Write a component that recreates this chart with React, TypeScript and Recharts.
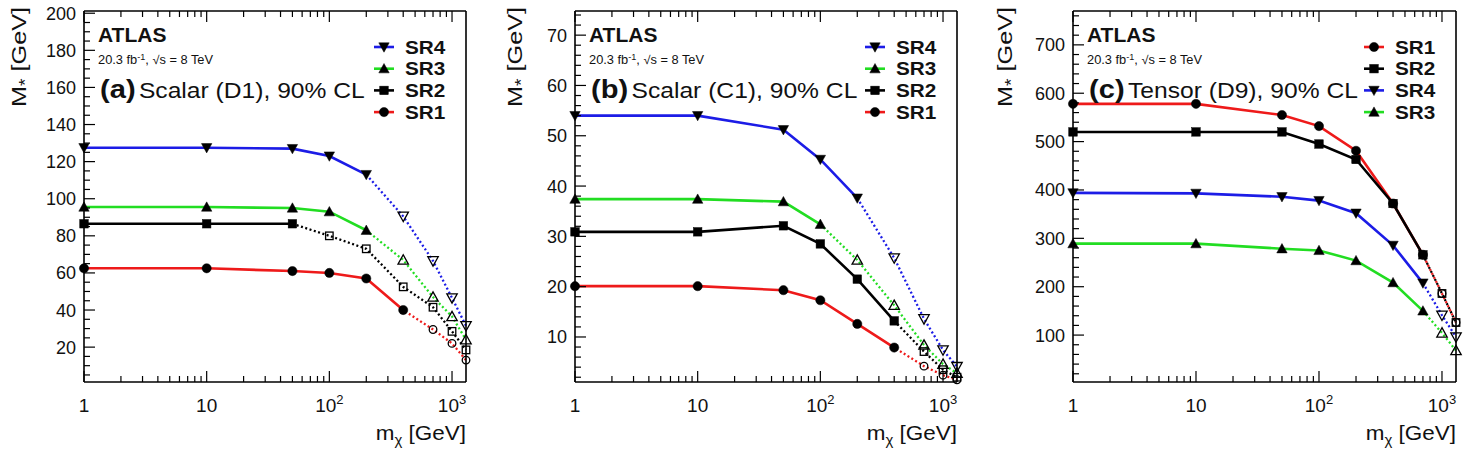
import React from 'react';
import { LineChart, Line, XAxis, YAxis } from 'recharts';

const FONT = '"Liberation Sans", Arial, Helvetica, sans-serif';
const INK = '#111';

// Dark-matter mass points (GeV)
const MASSES = [1, 10, 50, 100, 200, 400, 700, 1000, 1300];

// Log-axis tick positions and decade labels [mantissa, exponent]
const X_TICKS = [
  1, 2, 3, 4, 5, 6, 7, 8, 9,
  10, 20, 30, 40, 50, 60, 70, 80, 90,
  100, 200, 300, 400, 500, 600, 700, 800, 900,
  1000,
];
const X_LABELS: Record<number, [string, string]> = {
  1: ['1', ''],
  10: ['10', ''],
  100: ['10', '2'],
  1000: ['10', '3'],
};

// (a) Scalar (D1) limits on M* [GeV]
const D1_SR1 = [62.5, 62.5, 61, 60, 57, 40, 29.5, 22, 13];
const D1_SR2 = [86.5, 86.5, 86.5, 80, 73, 52.5, 41.5, 28.5, 18.5];
const D1_SR3 = [95.5, 95.5, 95, 93, 83, 67, 47, 36.5, 24];
const D1_SR4 = [127.5, 127.5, 127, 123, 113, 90.5, 66.5, 46.5, 31.5];
// index of the last mass point with a valid (filled) limit
const D1_LAST_VALID = { SR1: 5, SR2: 2, SR3: 4, SR4: 4 };
const D1_Y_LABELS = [20, 40, 60, 80, 100, 120, 140, 160, 180, 200];

// (b) Scalar (C1)
const C1_SR1 = [20.1, 20.1, 19.3, 17.3, 12.6, 7.9, 4.2, 2.4, 1.5];
const C1_SR2 = [30.9, 30.9, 32.1, 28.5, 21.5, 13.2, 7.1, 3.5, 2.0];
const C1_SR3 = [37.4, 37.4, 36.9, 32.4, 25.3, 16.3, 8.4, 4.6, 2.8];
const C1_SR4 = [54, 54, 51.2, 45.3, 37.6, 25.7, 13.6, 7.4, 4.1];
const C1_LAST_VALID = { SR1: 5, SR2: 5, SR3: 3, SR4: 4 };
const C1_Y_LABELS = [10, 20, 30, 40, 50, 60, 70];

// (c) Tensor (D9)
const D9_SR1 = [578, 578, 555, 532, 481, 372, 266, 186, 126];
const D9_SR2 = [520, 520, 520, 495, 463, 372, 266, 186, 126];
const D9_SR3 = [289, 289, 278.5, 275, 254, 208.5, 150, 104.5, 68];
const D9_SR4 = [394, 393, 386, 378, 352, 285.5, 207.5, 141, 96];
const D9_LAST_VALID = { SR1: 6, SR2: 6, SR3: 6, SR4: 6 };
const D9_Y_LABELS = [100, 200, 300, 400, 500, 600, 700];

type Key = 'SR1' | 'SR2' | 'SR3' | 'SR4';
type MarkerKind = 'circle' | 'square' | 'up' | 'down';

const STYLE: Record<Key, { color: string; marker: MarkerKind; dashOffset: number }> = {
  SR1: { color: '#ee1a1a', marker: 'circle', dashOffset: 2.25 },
  SR2: { color: '#000000', marker: 'square', dashOffset: 0 },
  SR3: { color: '#22dd22', marker: 'up', dashOffset: 0 },
  SR4: { color: '#1c1ce6', marker: 'down', dashOffset: 0 },
};

function Marker({ kind, cx, cy, open }: { kind: MarkerKind; cx: number; cy: number; open: boolean }) {
  const fill = open ? 'none' : '#000';
  const sw = open ? 1.3 : 0.5;
  if (kind === 'circle') {
    return <circle cx={cx} cy={cy} r={open ? 3.8 : 4.6} fill={fill} stroke="#000" strokeWidth={sw} />;
  }
  if (kind === 'square') {
    const s = open ? 7.5 : 8.5;
    return <rect x={cx - s / 2} y={cy - s / 2} width={s} height={s} fill={fill} stroke="#000" strokeWidth={sw} />;
  }
  const h = 5.2;
  const d = kind === 'up' ? 1 : -1;
  const pts = `${cx},${cy - d * h} ${cx - h},${cy + d * h * 0.8} ${cx + h},${cy + d * h * 0.8}`;
  return <polygon points={pts} fill={fill} stroke="#000" strokeWidth={sw} strokeLinejoin="miter" />;
}

interface PanelDef {
  tag: string;
  title: string;
  series: Record<Key, number[]>;
  lastValid: Record<Key, number>;
  legend: Key[];
  yDomain: [number, number];
  yLabels: number[];
  yMinorStep: number;
  originX: number;
  width: number;
  plotLeft: number;
  plotRight: number;
  yTitleX: number;
}

const PANELS: PanelDef[] = [
  {
    tag: '(a)',
    title: 'Scalar (D1), 90% CL',
    series: { SR1: D1_SR1, SR2: D1_SR2, SR3: D1_SR3, SR4: D1_SR4 },
    lastValid: D1_LAST_VALID,
    legend: ['SR4', 'SR3', 'SR2', 'SR1'],
    yDomain: [1.2, 201.2],
    yLabels: D1_Y_LABELS,
    yMinorStep: 5,
    originX: 0,
    width: 490,
    plotLeft: 84,
    plotRight: 466,
    yTitleX: 26,
  },
  {
    tag: '(b)',
    title: 'Scalar (C1), 90% CL',
    series: { SR1: C1_SR1, SR2: C1_SR2, SR3: C1_SR3, SR4: C1_SR4 },
    lastValid: C1_LAST_VALID,
    legend: ['SR4', 'SR3', 'SR2', 'SR1'],
    yDomain: [1.05, 74.8],
    yLabels: C1_Y_LABELS,
    yMinorStep: 2,
    originX: 490,
    width: 490,
    plotLeft: 575,
    plotRight: 957,
    yTitleX: 522,
  },
  {
    tag: '(c)',
    title: 'Tensor (D9), 90% CL',
    series: { SR1: D9_SR1, SR2: D9_SR2, SR3: D9_SR3, SR4: D9_SR4 },
    lastValid: D9_LAST_VALID,
    legend: ['SR1', 'SR2', 'SR4', 'SR3'],
    yDomain: [3, 770],
    yLabels: D9_Y_LABELS,
    yMinorStep: 20,
    originX: 980,
    width: 485,
    plotLeft: 1073,
    plotRight: 1456,
    yTitleX: 1012,
  },
];

const PLOT_TOP = 11;
const PLOT_BOTTOM = 382;
const Y_AXIS_W = 50;
const X_AXIS_H = 40;

function buildRows(p: PanelDef) {
  return MASSES.map((m, i) => {
    const row: Record<string, number | null> = { m };
    (Object.keys(p.series) as Key[]).forEach((k) => {
      const v = p.series[k][i];
      const last = p.lastValid[k];
      row[`${k}_valid`] = i <= last ? v : null;
      row[`${k}_ext`] = i >= last ? v : null;
    });
    return row;
  });
}

function buildYTicks(p: PanelDef) {
  const ticks: number[] = [];
  for (let v = p.yMinorStep; v <= p.yDomain[1]; v += p.yMinorStep) {
    if (v >= p.yDomain[0]) ticks.push(v);
  }
  return ticks;
}

const BottomTick = (props: any) => {
  const { x, y, payload } = props;
  const lab = X_LABELS[payload.value];
  const major = lab !== undefined;
  return (
    <g>
      <line x1={x} y1={y} x2={x} y2={y - (major ? 11 : 6)} stroke="#000" strokeWidth={1.2} />
      {lab && (
        <text x={x} y={y + 30} textAnchor="middle" fontSize={19} fontFamily={FONT} fill={INK}>
          {lab[0]}
          {lab[1] && (
            <tspan dy={-8} fontSize={13}>
              {lab[1]}
            </tspan>
          )}
        </text>
      )}
    </g>
  );
};

const TopTick = (props: any) => {
  const { x, y, payload } = props;
  const major = X_LABELS[payload.value] !== undefined;
  return <line x1={x} y1={y} x2={x} y2={y + (major ? 11 : 6)} stroke="#000" strokeWidth={1.2} />;
};

const makeLeftTick = (labels: number[]) => (props: any) => {
  const { x, y, payload } = props;
  const major = labels.includes(payload.value);
  return (
    <g>
      <line x1={x} y1={y} x2={x + (major ? 11 : 6)} y2={y} stroke="#000" strokeWidth={1.2} />
      {major && (
        <text x={x - 8} y={y} dy="0.36em" textAnchor="end" fontSize={18} fontFamily={FONT} fill={INK}>
          {payload.value}
        </text>
      )}
    </g>
  );
};

const makeRightTick = (labels: number[]) => (props: any) => {
  const { x, y, payload } = props;
  const major = labels.includes(payload.value);
  return <line x1={x} y1={y} x2={x - (major ? 11 : 6)} y2={y} stroke="#000" strokeWidth={1.2} />;
};

function Panel({ p }: { p: PanelDef }) {
  const rows = buildRows(p);
  const yTicks = buildYTicks(p);
  const margin = {
    top: PLOT_TOP - 1,
    bottom: 454 - PLOT_BOTTOM - X_AXIS_H,
    left: p.plotLeft - p.originX - Y_AXIS_W,
    right: p.originX + p.width - p.plotRight - 1,
  };
  const validOrder: Key[] = ['SR1', 'SR2', 'SR3', 'SR4'];
  const extOrder: Key[] = ['SR2', 'SR1', 'SR3', 'SR4'];
  const axisLine = { stroke: '#000', strokeWidth: 1.6 };
  return (
    <div style={{ position: 'absolute', left: p.originX, top: 0 }}>
      <LineChart width={p.width} height={454} data={rows} margin={margin}>
        <XAxis
          dataKey="m"
          type="number"
          scale="log"
          domain={[1, 1300]}
          ticks={X_TICKS}
          interval={0}
          height={X_AXIS_H}
          tickSize={0}
          tickMargin={0}
          tickLine={false}
          axisLine={axisLine}
          tick={BottomTick}
        />
        <XAxis
          xAxisId="top"
          orientation="top"
          dataKey="m"
          type="number"
          scale="log"
          domain={[1, 1300]}
          ticks={X_TICKS}
          interval={0}
          height={1}
          tickSize={0}
          tickMargin={0}
          tickLine={false}
          axisLine={axisLine}
          tick={TopTick}
        />
        <YAxis
          type="number"
          domain={p.yDomain}
          ticks={yTicks}
          interval={0}
          width={Y_AXIS_W}
          tickSize={0}
          tickMargin={0}
          tickLine={false}
          axisLine={axisLine}
          tick={makeLeftTick(p.yLabels)}
        />
        <YAxis
          yAxisId="right"
          orientation="right"
          type="number"
          domain={p.yDomain}
          ticks={yTicks}
          interval={0}
          width={1}
          tickSize={0}
          tickMargin={0}
          tickLine={false}
          axisLine={axisLine}
          tick={makeRightTick(p.yLabels)}
        />
        {extOrder.map((k) => (
          <Line
            key={`${k}-ext`}
            dataKey={`${k}_ext`}
            type="linear"
            stroke={STYLE[k].color}
            strokeWidth={2.3}
            strokeDasharray="2 2.5"
            strokeDashoffset={STYLE[k].dashOffset}
            isAnimationActive={false}
            activeDot={false}
            connectNulls={false}
            dot={(d: any) => {
              if (d.cx == null || d.cy == null || d.value == null || d.index <= p.lastValid[k]) {
                return <g key={`${k}-e-${d.index}`} />;
              }
              return (
                <g key={`${k}-e-${d.index}`}>
                  <Marker kind={STYLE[k].marker} cx={d.cx} cy={d.cy} open />
                </g>
              );
            }}
          />
        ))}
        {validOrder.map((k) => (
          <Line
            key={`${k}-valid`}
            dataKey={`${k}_valid`}
            type="linear"
            stroke={STYLE[k].color}
            strokeWidth={2.6}
            isAnimationActive={false}
            activeDot={false}
            connectNulls={false}
            dot={(d: any) => {
              if (d.cx == null || d.cy == null || d.value == null) {
                return <g key={`${k}-v-${d.index}`} />;
              }
              return (
                <g key={`${k}-v-${d.index}`}>
                  <Marker kind={STYLE[k].marker} cx={d.cx} cy={d.cy} open={false} />
                </g>
              );
            }}
          />
        ))}
      </LineChart>
    </div>
  );
}

function Annotations({ p }: { p: PanelDef }) {
  const tx = p.plotLeft + 14;
  const legX = p.plotRight - 92;
  return (
    <g fontFamily={FONT} fill={INK}>
      <text transform={`translate(${tx}, 42) scale(1.05, 1)`} fontSize={20} fontWeight="bold">
        ATLAS
      </text>
      <text transform={`translate(${tx}, 64) scale(1.07, 1)`} fontSize={12}>
        20.3 fb
        <tspan dy={-4} fontSize={8.5}>
          -1
        </tspan>
        <tspan dy={4}>, √s = 8 TeV</tspan>
      </text>
      <text transform={`translate(${tx + 2}, 98) scale(1.12, 1)`} fontSize={22}>
        <tspan fontWeight="bold" fontSize={26}>
          {p.tag}
        </tspan>
        <tspan dx={3}>{p.title}</tspan>
      </text>
      {p.legend.map((k, i) => {
        const y = 47 + i * 21.7;
        return (
          <g key={k}>
            <line x1={legX} y1={y} x2={legX + 20} y2={y} stroke={STYLE[k].color} strokeWidth={2.6} />
            <Marker kind={STYLE[k].marker} cx={legX + 10} cy={y} open={false} />
            <text
              transform={`translate(${legX + 31}, ${y}) scale(1.12, 1)`}
              dy="0.36em"
              fontSize={18.5}
              fontWeight="bold"
            >
              {k}
            </text>
          </g>
        );
      })}
      <text transform={`translate(${p.plotRight}, 440) scale(1.07, 1)`} textAnchor="end" fontSize={21}>
        m
        <tspan dy={5} fontSize={14}>
          χ
        </tspan>
        <tspan dy={-5}> [GeV]</tspan>
      </text>
      <text
        transform={`translate(${p.yTitleX}, 7) rotate(-90) scale(1.2, 1)`}
        textAnchor="end"
        fontSize={21}
      >
        M
        <tspan dy={5} fontSize={16}>
          *
        </tspan>
        <tspan dy={-5}> [GeV]</tspan>
      </text>
    </g>
  );
}

export default function App() {
  return (
    <div
      style={{
        position: 'absolute',
        left: 0,
        top: 0,
        width: 1465,
        height: 454,
        background: '#fff',
        overflow: 'hidden',
        fontFamily: FONT,
      }}
    >
      {PANELS.map((p) => (
        <Panel key={p.tag} p={p} />
      ))}
      <svg
        width={1465}
        height={454}
        style={{ position: 'absolute', left: 0, top: 0, pointerEvents: 'none' }}
      >
        {PANELS.map((p) => (
          <Annotations key={p.tag} p={p} />
        ))}
      </svg>
    </div>
  );
}
